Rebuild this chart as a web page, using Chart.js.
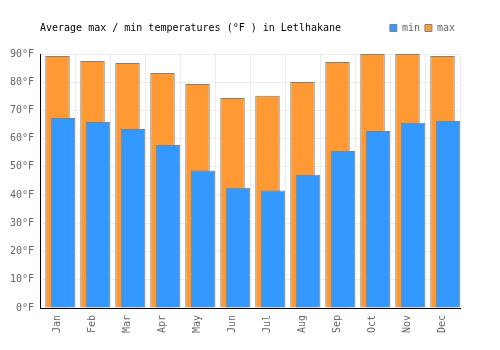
<!DOCTYPE html>
<html>
<head>
<meta charset="utf-8">
<script src="https://cdn.jsdelivr.net/npm/chart.js@4/dist/chart.umd.min.js"></script>
<style>
  body { margin: 0; background: #fff; }
  #wrap { position: relative; width: 500px; height: 350px; }
  #title {
    position: absolute; left: 40px; top: 22px;
    font: 10px/12px "DejaVu Sans Mono", monospace;
    color: #000; white-space: pre;
  }
</style>
</head>
<body>
<div id="wrap">
  <canvas id="tempChart" width="500" height="350"></canvas>
  <div id="title">Average max / min temperatures (°F ) in Letlhakane</div>
</div>
<script>
// Monthly average temperatures, Letlhakane (°F)
const months = ['Jan', 'Feb', 'Mar', 'Apr', 'May', 'Jun', 'Jul', 'Aug', 'Sep', 'Oct', 'Nov', 'Dec'];
const maxTemps = [89.3, 87.5, 86.8, 83.3, 79.4, 74.4, 75.2, 80.1, 87.2, 90.0, 90.0, 89.3];
const minTemps = [67.3, 65.9, 63.4, 57.8, 48.7, 42.6, 41.6, 47.2, 55.6, 62.7, 65.6, 66.3];
const yTicks = [0, 10, 20, 30, 40, 50, 60, 70, 80, 90];

const monoFont = { family: 'DejaVu Sans Mono', size: 10 };
const greyText = '#666';
const barBorder = '#808080';
// min bars sit a little right of the max bars (fraction of one category)
const minBarShift = 0.157;

// push the plot area down a bit below the legend row
const legendSpacer = {
    id: 'legendSpacer',
    afterInit(chart) {
        const fit = chart.legend.fit;
        chart.legend.fit = function() {
            fit.call(this);
            this.height += 11;
        };
    }
};

const ctx = document.getElementById('tempChart').getContext('2d');

new Chart(ctx, {
    type: 'bar',
    data: {
        labels: months,
        datasets: [
            {
                // first dataset is drawn last, so min ends up on top
                label: 'min',
                data: minTemps,
                backgroundColor: '#3399ff',
                borderColor: barBorder,
                borderWidth: 1,
                xAxisID: 'x2',
                grouped: false,
                categoryPercentage: 1,
                barPercentage: 0.7
            },
            {
                label: 'max',
                data: maxTemps,
                backgroundColor: '#ff9933',
                borderColor: barBorder,
                borderWidth: 1,
                xAxisID: 'x',
                grouped: false,
                categoryPercentage: 1,
                barPercentage: 0.7
            }
        ]
    },
    options: {
        responsive: false,
        animation: false,
        layout: { padding: { top: 18, right: 40, left: 0, bottom: 0 } },
        plugins: {
            title: { display: false },
            tooltip: { enabled: false },
            legend: {
                position: 'top',
                align: 'end',
                labels: {
                    boxWidth: 7,
                    boxHeight: 7,
                    padding: 5,
                    font: monoFont,
                    color: greyText
                }
            }
        },
        scales: {
            x: {
                type: 'category',
                offset: true,
                grid: { offset: true, color: '#ebebeb', drawTicks: false },
                border: { color: '#000', width: 1 },
                ticks: {
                    font: monoFont,
                    color: greyText,
                    minRotation: 90,
                    maxRotation: 90,
                    autoSkip: false,
                    padding: 7
                },
                afterFit: scale => { scale.height = 42; }
            },
            x2: {
                type: 'category',
                offset: true,
                display: false,
                afterDataLimits: scale => {
                    scale.min = -minBarShift;
                    scale.max = months.length - minBarShift;
                }
            },
            y: {
                min: 0,
                max: 90,
                grid: { color: '#ebebeb', drawTicks: false },
                border: { color: '#000', width: 1 },
                afterBuildTicks: scale => {
                    scale.ticks = yTicks.map(v => ({ value: v }));
                },
                ticks: {
                    font: monoFont,
                    color: greyText,
                    padding: 6,
                    callback: v => v + '°F'
                },
                afterFit: scale => { scale.width = 40; }
            }
        }
    },
    plugins: [legendSpacer]
});
</script>
</body>
</html>
